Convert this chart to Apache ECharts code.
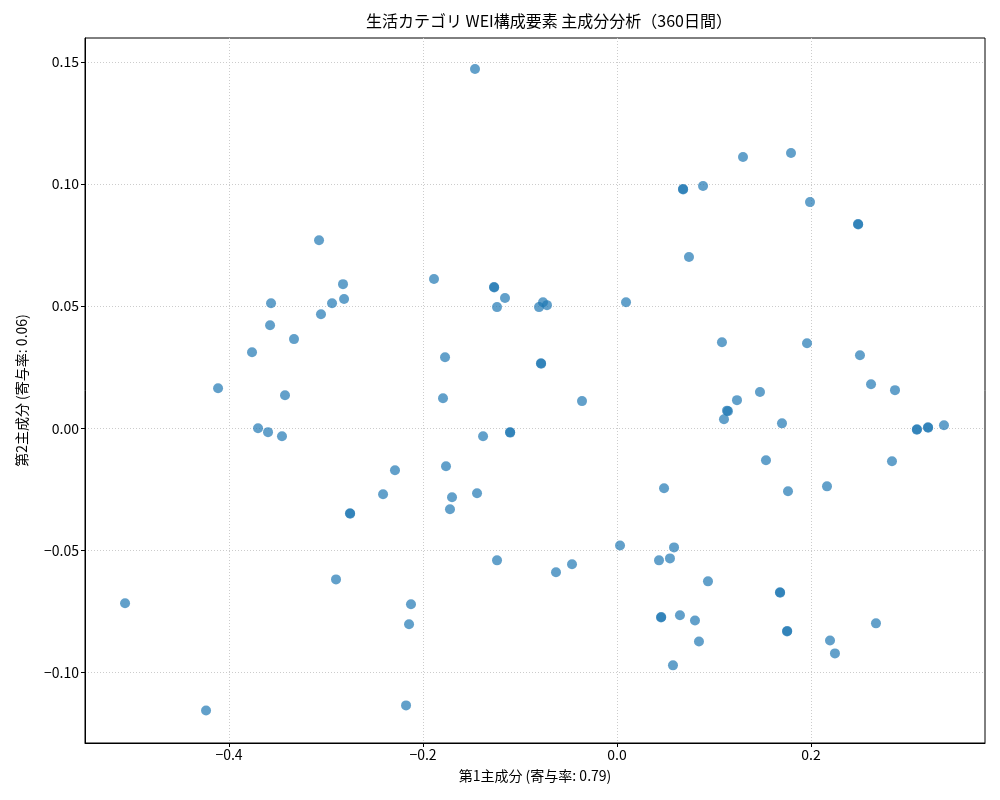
<!DOCTYPE html>
<html><head><meta charset="utf-8">
<script src="https://cdn.jsdelivr.net/npm/echarts@6/dist/echarts.min.js"></script>
<style>html,body{margin:0;padding:0;background:#fff}#c{width:1000px;height:800px}</style>
</head><body><div id="c"></div><script>
const titleText = '生活カテゴリ WEI構成要素 主成分分析（360日間）';
const xName = '第1主成分 (寄与率: 0.79)';
const yName = '第2主成分 (寄与率: 0.06)';
const xTicks = [-0.4, -0.2, 0.0, 0.2];
const yTicks = [-0.10, -0.05, 0.00, 0.05, 0.10, 0.15];
const pc1 = [
 -0.1464, 0.1794, 0.1299, 0.0680, 0.0682, 0.0887, 0.1990, 0.2485, 0.2487, 0.0742,
 -0.3072, -0.1887, -0.2825, -0.2814, -0.2938, -0.3052, -0.3567, -0.3577, -0.3330, -0.3763,
 -0.1268, -0.1266, -0.1155, -0.1237, -0.0763, -0.0722, -0.0804, 0.0093, -0.0784, -0.0782,
 -0.1773, 0.1082, 0.1959, 0.2505, 0.2619, 0.2866, -0.4113, -0.3423, -0.1794, -0.0361,
 0.1237, 0.1474, 0.1144, 0.1134, 0.1103, 0.1701, 0.3093, 0.3091, 0.3206, 0.3208,
 0.3371, -0.3701, -0.3598, -0.3454, -0.1381, -0.1103, -0.1101, 0.1536, 0.2835, -0.2289,
 -0.1763, -0.2412, -0.1443, -0.1701, -0.1722, -0.2753, -0.2751, 0.0485, 0.1763, 0.2165,
 0.0031, 0.0588, 0.0433, 0.0546, -0.1237, -0.0464, -0.0629, 0.0938, -0.2897, -0.5072,
 -0.2124, -0.2144, 0.1680, 0.1682, 0.0454, 0.0456, 0.0649, 0.0804, 0.1753, 0.1755,
 0.2670, 0.0845, 0.2196, 0.2247, 0.0577, -0.4237, -0.2175
];
const pc2 = [
 0.1471, 0.1127, 0.1111, 0.0980, 0.0978, 0.0992, 0.0926, 0.0836, 0.0834, 0.0701,
 0.0770, 0.0611, 0.0590, 0.0529, 0.0512, 0.0467, 0.0512, 0.0422, 0.0365, 0.0311,
 0.0578, 0.0576, 0.0533, 0.0496, 0.0516, 0.0504, 0.0496, 0.0516, 0.0266, 0.0264,
 0.0291, 0.0352, 0.0348, 0.0299, 0.0180, 0.0156, 0.0164, 0.0135, 0.0123, 0.0111,
 0.0115, 0.0148, 0.0070, 0.0072, 0.0037, 0.0020, -0.0004, -0.0006, 0.0004, 0.0002,
 0.0012, 0.0000, -0.0016, -0.0033, -0.0033, -0.0016, -0.0018, -0.0131, -0.0135, -0.0172,
 -0.0156, -0.0270, -0.0266, -0.0283, -0.0332, -0.0348, -0.0350, -0.0246, -0.0258, -0.0238,
 -0.0480, -0.0488, -0.0541, -0.0533, -0.0541, -0.0557, -0.0590, -0.0627, -0.0619, -0.0717,
 -0.0721, -0.0803, -0.0672, -0.0674, -0.0775, -0.0773, -0.0766, -0.0787, -0.0832, -0.0830,
 -0.0799, -0.0873, -0.0869, -0.0922, -0.0971, -0.1156, -0.1135
];
const points = pc1.map((x, i) => [x, pc2[i]]);
const fam = '"Noto Sans CJK JP", "DejaVu Sans", sans-serif';
const fmt = d => v => v.toFixed(d).replace('-', '\u2212');
const chart = echarts.init(document.getElementById('c'));
chart.setOption({
  animation: false,
  backgroundColor: '#fff',
  title: {
    text: titleText, left: 544, top: 8, textAlign: 'center',
    textStyle: { fontFamily: fam, fontSize: 16, fontWeight: 'normal', color: '#000' }
  },
  grid: { left: 85, right: 15, top: 38, bottom: 57, show: true, borderColor: '#000', borderWidth: 1, backgroundColor: 'transparent' },
  xAxis: {
    type: 'value', min: -0.5485, max: 0.3794,
    name: xName, nameLocation: 'middle', nameGap: 26,
    nameTextStyle: { fontFamily: fam, fontSize: 14, color: '#000' },
    axisLine: { show: true, onZero: false, lineStyle: { color: '#000', width: 1 } },
    axisTick: { show: true, length: 4, customValues: xTicks, lineStyle: { color: '#000' } },
    axisLabel: { customValues: xTicks, formatter: fmt(1), fontFamily: fam, fontSize: 14, color: '#000', margin: 5 },
    splitLine: { show: true, lineStyle: { color: '#cccccc', type: [1, 2], width: 1 } }
  },
  yAxis: {
    type: 'value', min: -0.1289, max: 0.1598,
    name: yName, nameLocation: 'middle', nameGap: 56,
    nameTextStyle: { fontFamily: fam, fontSize: 14, color: '#000' },
    axisLine: { show: true, onZero: false, lineStyle: { color: '#000', width: 1 } },
    axisTick: { show: true, length: 4, customValues: yTicks, lineStyle: { color: '#000' } },
    axisLabel: { customValues: yTicks, formatter: fmt(2), fontFamily: fam, fontSize: 14, color: '#000', margin: 6 },
    splitLine: { show: true, lineStyle: { color: '#cccccc', type: [1, 2], width: 1 } }
  },
  series: [{
    type: 'scatter', data: points, symbolSize: 10,
    itemStyle: { color: '#1f77b4', opacity: 0.7 }
  }]
});
</script></body></html>
